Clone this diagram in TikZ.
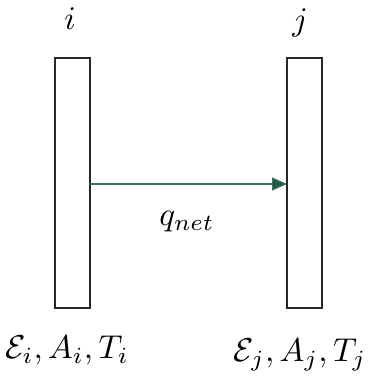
\documentclass[tikz,border=0pt]{standalone}
\usetikzlibrary{arrows.meta}
\definecolor{arrowgreen}{RGB}{30,90,66}
\definecolor{linegreen}{RGB}{60,110,90}
\begin{document}
\begin{tikzpicture}[x=1pt,y=-1pt,
  plate/.style={draw=black!85, line width=1.8pt, minimum width=35pt, minimum height=250pt, inner sep=0pt, outer sep=0pt},
  lbl/.style={scale=3.3, inner sep=0pt},
  flux/.style={draw=linegreen, line width=1.2pt, -{Triangle[length=15pt,width=13pt,fill=arrowgreen]}}]
\useasboundingbox (0,0) rectangle (376,377);
\node[plate] (pi) at (72.5,183) {};
\node[plate] (pj) at (304.5,183) {};
\node[lbl] (li) at (70,19) {$i$};
\node[lbl] (lj) at (300,23) {$j$};
\node[lbl] (q) at (187,222) {$q_{net}$};
\node[lbl] (bi) at (67,350) {$\mathcal{E}_i,A_i,T_i$};
\node[lbl] (bj) at (300,355) {$\mathcal{E}_j,A_j,T_j$};
\draw[flux] (pi.east |- 0,184) -- (pj.west |- 0,184);
\end{tikzpicture}
\end{document}
